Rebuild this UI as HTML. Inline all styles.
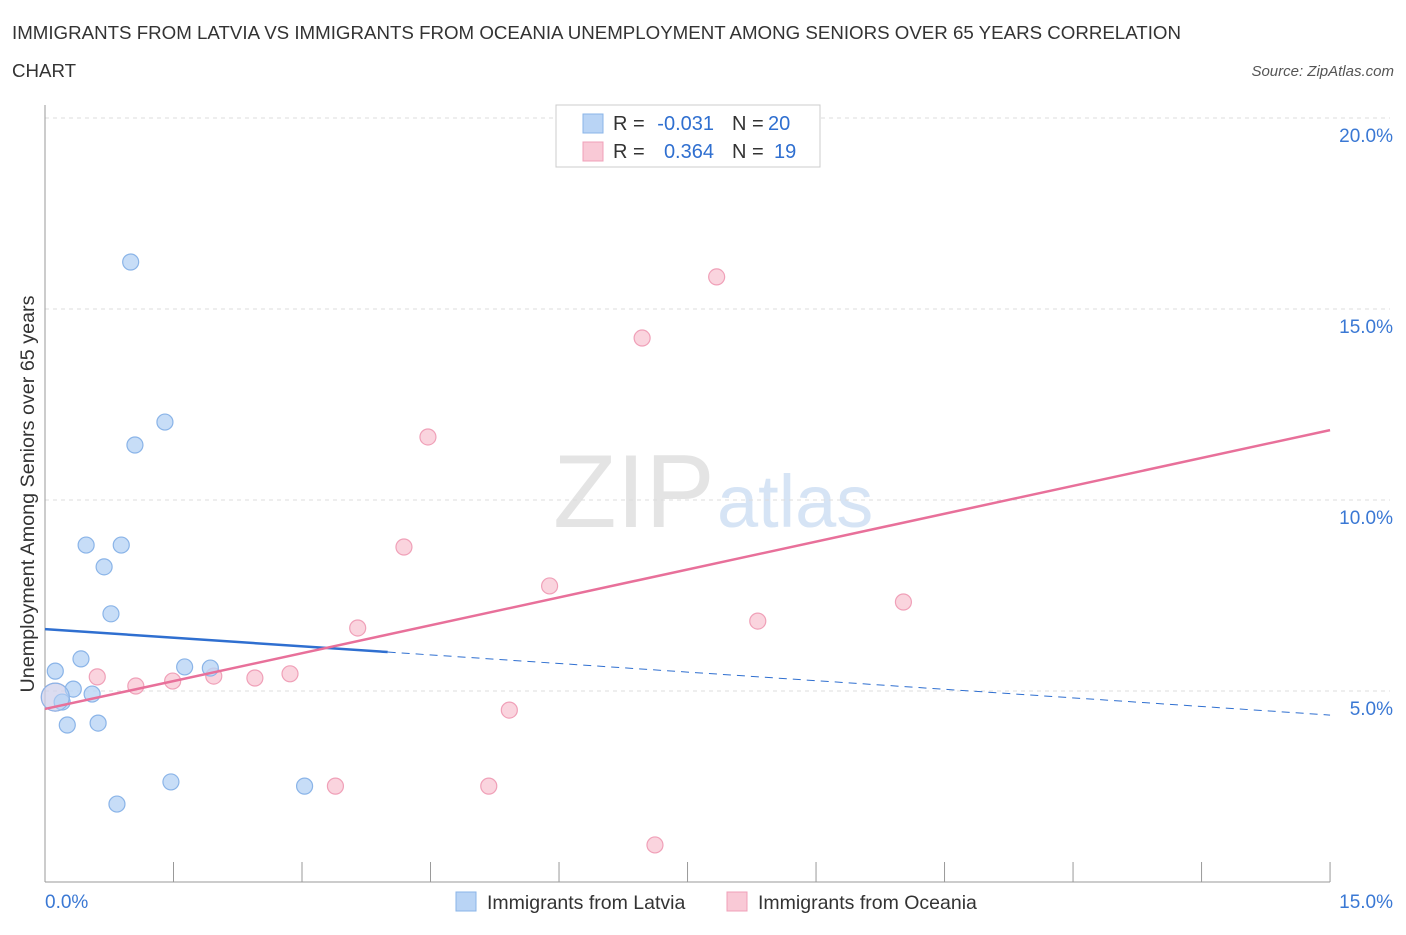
<!DOCTYPE html>
<html><head><meta charset="utf-8"><style>
body{margin:0;background:#fff;font-family:"Liberation Sans",sans-serif;}
svg text{font-family:"Liberation Sans",sans-serif;}
</style></head><body>
<svg id="chart" width="1406" height="930" xmlns="http://www.w3.org/2000/svg">
<text x="12" y="39" font-size="18.7" fill="#333" textLength="1169" lengthAdjust="spacingAndGlyphs">IMMIGRANTS FROM LATVIA VS IMMIGRANTS FROM OCEANIA UNEMPLOYMENT AMONG SENIORS OVER 65 YEARS CORRELATION</text>
<text x="12" y="77" font-size="18.7" fill="#333">CHART</text>
<text x="1394" y="76" font-size="15" fill="#555" font-style="italic" text-anchor="end">Source: ZipAtlas.com</text>
<text transform="translate(34,494) rotate(-90)" font-size="19.5" fill="#333" text-anchor="middle" textLength="397" lengthAdjust="spacingAndGlyphs">Unemployment Among Seniors over 65 years</text>
<text x="553" y="527" font-size="104" fill="#e4e4e4" font-family="Liberation Serif">ZIP</text>
<text x="717" y="527" font-size="74" fill="#d6e4f5">atlas</text>
<g id="grid"></g><g id="marks"></g>
<g>
<rect x="556" y="105" width="264" height="62" fill="#fff" stroke="#ccc"/>
<rect x="583" y="114" width="20" height="19" fill="#b9d4f5" stroke="#8ab4e8"/>
<rect x="583" y="142" width="20" height="19" fill="#f9c9d6" stroke="#f0a0b8"/>
<text x="613" y="130" font-size="20" fill="#333">R =</text>
<text x="714" y="130" font-size="20" fill="#2f6fd0" text-anchor="end">-0.031</text>
<text x="732" y="130" font-size="20" fill="#333">N =</text>
<text x="768" y="130" font-size="20" fill="#2f6fd0">20</text>
<text x="613" y="158" font-size="20" fill="#333">R =</text>
<text x="714" y="158" font-size="20" fill="#2f6fd0" text-anchor="end">0.364</text>
<text x="732" y="158" font-size="20" fill="#333">N =</text>
<text x="774" y="158" font-size="20" fill="#2f6fd0">19</text>
</g>
<g>
<rect x="456" y="892" width="20" height="19" fill="#b9d4f5" stroke="#8ab4e8"/>
<text x="487" y="909" font-size="19.5" fill="#333">Immigrants from Latvia</text>
<rect x="727" y="892" width="20" height="19" fill="#f9c9d6" stroke="#f0a0b8"/>
<text x="758" y="909" font-size="19.5" fill="#333">Immigrants from Oceania</text>
</g>
</svg>
<script>
const yTicks=[5,10,15,20];
const xTickLabels=["0.0%","15.0%"];
const latviaX=[0.12,0.20,0.26,0.33,0.42,0.48,0.55,0.62,0.69,0.77,0.84,0.89,1.00,1.05,1.40,1.47,1.63,1.93,3.03,0.12];
const latviaY=[5.52,4.71,4.11,5.05,5.84,8.82,4.92,4.16,8.25,7.02,2.04,8.82,16.23,11.44,12.04,2.62,5.63,5.60,2.51,4.84];
const oceaniaX=[0.12,0.61,1.06,1.49,1.97,2.45,2.86,3.39,3.65,4.19,4.47,5.18,5.42,5.89,6.97,7.12,7.84,8.32,10.02];
const oceaniaY=[4.84,5.37,5.13,5.26,5.39,5.34,5.45,2.51,6.65,8.77,11.65,2.51,4.50,7.75,14.24,0.97,15.84,6.83,7.33];
const latviaTrend=[6.62,4.37];
const oceaniaTrend=[4.53,11.83];
const NS="http://www.w3.org/2000/svg";
const X=v=>45+v*85.67, Y=v=>882-v*38.2;
function mk(t,a,p){const e=document.createElementNS(NS,t);for(const k in a)e.setAttribute(k,a[k]);p.appendChild(e);return e;}
const g=document.getElementById('grid'), m=document.getElementById('marks');
mk('line',{x1:45,x2:1390,y1:118,y2:118,stroke:'#ddd','stroke-dasharray':'4,4'},g);
yTicks.forEach(t=>{
 const l=mk('line',{x1:45,x2:1390,y1:Y(t),y2:Y(t),stroke:'#ddd','stroke-dasharray':'4,4'},g);
 
 
 const tx=mk('text',{x:1393,y:Y(t)+24,'font-size':19,fill:'#3a78d4','text-anchor':'end'},g);
 tx.textContent=t.toFixed(1)+'%';
 
 
});
mk('line',{x1:45,x2:45,y1:105,y2:882,stroke:'#999'},g);
mk('line',{x1:45,x2:1330,y1:882,y2:882,stroke:'#999'},g);
for(let i=0;i<=10;i++){mk('line',{x1:X(i*1.5),x2:X(i*1.5),y1:862,y2:882,stroke:'#999'},g);}
const xl0=mk('text',{x:45,y:908,'font-size':19,fill:'#3a78d4'},g);xl0.textContent=xTickLabels[0];


const xl1=mk('text',{x:1393,y:908,'font-size':19,fill:'#3a78d4','text-anchor':'end'},g);xl1.textContent=xTickLabels[1];


function dots(xs,ys,fill,stroke,name){xs.forEach((x,i)=>{
 const big=i===xs.length-1&&name==='latvia-point'||i===0&&name==='oceania-point';
 const c=mk('circle',{cx:X(x),cy:Y(ys[i]),r:big?14:8,fill:fill,stroke:stroke,'stroke-width':1.2,'fill-opacity':big?0.5:0.8},m);
 
 
});}
dots(oceaniaX,oceaniaY,'#f9c9d6','#f0a0b8','oceania-point');
dots(latviaX,latviaY,'#b9d4f5','#8ab4e8','latvia-point');
const ls=latviaTrend, xb=4.0;
const bl=mk('line',{x1:X(0),y1:Y(ls[0]),x2:X(xb),y2:Y(ls[0]+(ls[1]-ls[0])*xb/15),stroke:'#2f6fd0','stroke-width':2.5},m);


const bd=mk('line',{x1:X(xb),y1:Y(ls[0]+(ls[1]-ls[0])*xb/15),x2:X(15),y2:Y(ls[1]),stroke:'#2f6fd0','stroke-width':1,'stroke-dasharray':'8,6'},m);


const pl=mk('line',{x1:X(0),y1:Y(oceaniaTrend[0]),x2:X(15),y2:Y(oceaniaTrend[1]),stroke:'#e8709a','stroke-width':2.5},m);


</script>
</body></html>
